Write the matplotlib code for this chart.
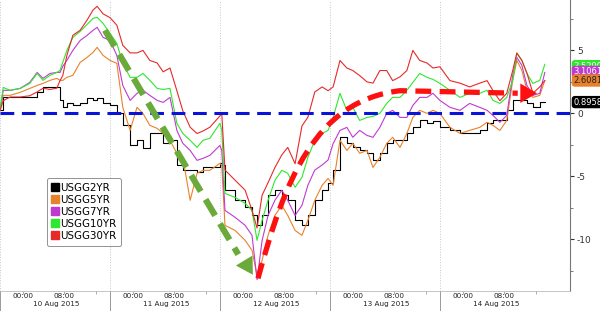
import numpy as np
import matplotlib.pyplot as plt
from matplotlib.lines import Line2D
from matplotlib.path import Path
from matplotlib.patches import PathPatch

# ---------------------------------------------------------------------------
# DATA (yield change in bp)
# ---------------------------------------------------------------------------
hours = [0, 0.7, 2.2, 4.4, 6.5, 8.1, 9.4, 10.9, 12.4, 13.1, 13.7, 14.6, 15.9, 17.5,
         19.0, 20.3, 21.2, 22.5, 24.0, 25.5, 26.8, 28.4, 29.9, 31.2, 32.7, 34.3,
         35.6, 37.1, 38.6, 39.9, 41.5, 43.0, 44.3, 45.8, 48.0, 48.4, 49.1, 51.3,
         53.5, 55.0, 56.1, 57.2, 58.5, 60.0, 61.5, 62.8, 64.4, 65.9, 67.2, 68.7,
         70.3, 71.6, 72.7, 74.2, 75.7, 77.0, 78.5, 80.1, 81.4, 82.9, 84.4, 85.7,
         87.3, 88.8, 90.1, 91.6, 93.2, 94.5, 96.0, 98.2, 100.4, 102.5, 104.7,
         106.3, 107.6, 109.1, 110.6, 111.9, 112.8, 113.9, 115.0, 116.3, 117.8, 118.9]

usgg2yr = [0.24, 1.27, 1.27, 1.27, 1.27, 1.67, 2.06, 2.06, 2.06, 1.03,
           0.48, 0.79, 0.63, 0.79, 1.19, 1.03, 1.19, 0.79, 0.63, 0.0,
           -0.95, -2.54, -2.14, -2.78, -1.59, -1.59, -2.38, -2.14, -4.13, -4.52,
           -4.52, -4.68, -4.29, -4.29, -3.97, -4.13, -6.11, -6.90, -7.46, -8.10,
           -8.89, -8.10, -6.51, -6.11, -6.51, -6.90, -8.49, -8.89, -8.10, -6.90,
           -6.11, -5.56, -4.52, -1.90, -2.38, -2.70, -2.94, -3.17, -3.73, -3.17,
           -2.38, -2.14, -2.14, -1.59, -1.11, -0.56, -0.79, -0.63, -1.11, -1.35,
           -1.59, -1.59, -1.35, -0.79, -0.56, -0.56, 0.24, 1.03, 1.03, 1.03,
           0.79, 0.48, 0.90, 0.90]

usgg5yr = [0.24, 1.43, 1.43, 1.67, 1.98, 2.22, 2.38, 2.62, 2.78, 2.62,
           2.62, 2.86, 3.02, 4.05, 4.44, 4.84, 5.24, 4.60, 4.21, 3.97,
           0.48, -1.35, 0.48, 0.0, -0.95, -1.19, -1.59, -2.14, -3.17, -3.49,
           -6.9, -4.76, -4.52, -4.52, -3.97, -4.13, -8.89, -9.29, -10.08, -10.87,
           -12.86, -11.67, -9.68, -8.10, -7.30, -8.10, -9.29, -9.68, -8.49, -6.90,
           -5.71, -5.16, -5.71, -2.14, -2.94, -2.38, -3.17, -2.94, -4.29, -3.49,
           -2.38, -1.90, -2.70, -1.59, -0.32, 0.24, 0.0, 0.24, 0.0, -1.11,
           -1.59, -1.35, -1.11, -0.71, -0.95, -1.35, -0.56, 2.62, 4.21, 3.41,
           1.83, 1.27, 1.43, 2.61]

usgg7yr = [0.24, 1.83, 1.83, 1.98, 2.46, 3.25, 2.78, 3.17, 3.25, 3.25,
           3.73, 4.21, 5.0, 5.79, 6.19, 6.59, 6.83, 6.03, 5.79, 4.60,
           2.22, 1.03, 1.59, 1.83, 1.43, 1.03, 0.87, 1.27, -1.35, -2.38,
           -2.94, -3.73, -3.57, -3.33, -2.54, -2.94, -7.70, -8.25, -8.89, -9.68,
           -13.2, -10.1, -8.1, -6.9, -6.1, -6.9, -8.1, -7.3, -5.7, -4.5,
           -4.1, -3.7, -2.4, -1.35, -1.11, -1.9, -1.35, -1.75, -1.9, -1.11,
           0.0, 0.24, -0.32, -0.32, 0.63, 1.27, 1.27, 1.59, 1.03, 0.48,
           0.24, 0.79, 0.48, 0.24, -0.16, -0.71, -0.16, 3.02, 4.44, 3.81,
           2.22, 1.43, 1.59, 3.25]

usgg10yr = [0.24, 2.06, 1.83, 1.98, 2.38, 3.17, 2.62, 3.02, 3.25, 3.41,
            4.05, 5.0, 6.03, 6.51, 7.06, 7.54, 7.62, 7.14, 6.35, 5.56,
            3.97, 2.86, 2.86, 3.17, 2.62, 1.98, 1.90, 1.98, -0.79, -1.59,
            -2.14, -2.70, -2.14, -1.98, -0.79, -1.35, -6.35, -6.67, -7.14, -7.70,
            -10.08, -8.49, -6.90, -5.32, -4.52, -4.76, -5.87, -5.08, -3.49, -2.14,
            -1.59, -1.35, -0.32, 1.59, 0.24, 0.48, -0.56, -0.32, -0.24, 0.0,
            0.79, 1.27, 1.27, 1.83, 2.46, 3.17, 2.86, 2.70, 2.38, 1.83,
            1.27, 1.59, 1.59, 1.83, 1.03, 0.79, 1.27, 2.62, 4.76, 4.21,
            3.17, 2.38, 2.62, 3.89]

usgg30yr = [0.2, 1.0, 1.3, 1.3, 1.4, 1.7, 2.0, 1.9, 2.0, 2.6,
            3.0, 4.6, 6.2, 6.6, 7.4, 8.2, 8.5, 7.9, 7.6, 7.0,
            5.4, 4.8, 4.8, 5.0, 4.2, 4.0, 3.3, 3.6, 1.8, 0.2,
            -1.1, -1.6, -1.4, -1.1, -0.2, 0.0, -4.5, -5.3, -6.1, -7.7,
            -9.1, -6.5, -5.5, -4.3, -3.3, -2.7, -4.0, -1.0, -0.3, 1.7,
            2.1, 1.8, 2.1, 4.2, 3.6, 3.4, 3.0, 2.5, 2.4, 3.4,
            3.4, 2.6, 2.9, 3.4, 5.0, 4.2, 4.0, 3.6, 3.7, 2.6,
            2.4, 2.1, 2.4, 2.6, 1.8, 1.0, 1.6, 3.4, 4.8, 4.2,
            3.2, 1.6, 2.1, 2.6]

series_names = ["USGG2YR", "USGG5YR", "USGG7YR", "USGG10YR", "USGG30YR"]
series_colors = ["#000000", "#e8822a", "#c03ad0", "#2ee82e", "#e62a2a"]
day_labels = ["10 Aug 2015", "11 Aug 2015", "12 Aug 2015", "13 Aug 2015", "14 Aug 2015"]

# last-value tags on the right edge: (label, value, face, text colour)
tags = [("3.5290", 3.75, "#2ee82e", "#ffffff"),
        ("3.1061", 3.3, "#c03ad0", "#ffffff"),
        ("2.6081", 2.6081, "#e8822a", "#222222"),
        ("0.8958", 0.8958, "#000000", "#ffffff")]

# ---------------------------------------------------------------------------
# FIGURE
# ---------------------------------------------------------------------------
fig = plt.figure(figsize=(6, 3.11), dpi=100)
ax = fig.add_axes([0.0, 1 - 291 / 311, 0.95, 291 / 311])
ax.set_xlim(0, 124.4)
ax.set_ylim(-14.1, 9.0)

# day separators
for d in range(5):
    ax.axvline(24 * d, color="#c8c8c8", lw=0.7, ls=":", zorder=0)
    ax.plot([24 * d, 24 * d], [0, -0.075], color="#999999", lw=0.7,
            transform=ax.get_xaxis_transform(), clip_on=False)

all_series = [usgg2yr, usgg5yr, usgg7yr, usgg10yr, usgg30yr]
for name, vals, col in zip(series_names, all_series, series_colors):
    ds = "steps-post" if name == "USGG2YR" else "default"
    ax.plot(hours, vals, color=col, lw=0.8, drawstyle=ds, zorder=3)

# zero line
ax.axhline(0, color="#0a14d8", lw=2.2, ls=(0, (4.5, 2.5)), zorder=4)

# green dashed arrow (sell-off)
ax.plot([22.9, 52.0], [6.6, -11.2], color="#6aaa3a", lw=4.5,
        ls=(0, (3, 1.5)), solid_capstyle="butt", zorder=5)
ax.annotate("", xy=(55.5, -13.0), xytext=(51.5, -10.6),
            arrowprops=dict(arrowstyle="-|>,head_length=1.2,head_width=0.7",
                            color="#6aaa3a", lw=0), zorder=6)

# red dashed curved arrow (rebound)
verts = [(56.3, -13.1), (62.2, -5.3), (68.7, 1.0), (87.3, 1.8), (113.0, 1.6)]
codes = [Path.MOVETO, Path.CURVE4, Path.CURVE4, Path.CURVE4, Path.LINETO]
ax.add_patch(PathPatch(Path(verts, codes), fill=False, edgecolor="#ff1010",
                       lw=3.8, ls=(0, (3, 1.6)), capstyle="butt", zorder=5))
ax.annotate("", xy=(117.8, 1.6), xytext=(113.0, 1.6),
            arrowprops=dict(arrowstyle="-|>,head_length=1.2,head_width=0.7",
                            color="#ff1010", lw=0), zorder=6)

# axes styling
for side in ["top", "left"]:
    ax.spines[side].set_visible(False)
ax.spines["right"].set_color("#777777")
ax.spines["bottom"].set_color("#bbbbbb")
ax.spines["right"].set_linewidth(0.8)
ax.spines["bottom"].set_linewidth(0.6)

ax.yaxis.tick_right()
ax.set_yticks([5, 0, -5, -10])
ax.set_yticklabels(["5", "0", "-5", "-10"])
ax.set_yticks([7.5, 2.5, -2.5, -7.5, -12.5], minor=True)
ax.tick_params(axis="y", which="major", length=3, width=0.8, labelsize=6.5,
               colors="#333333", pad=2)
ax.tick_params(axis="y", which="minor", length=2, width=0.6, colors="#666666")

ax.set_xticks([24 * d + off for d in range(5) for off in (5.0, 14.0, 21.0)])
ax.set_xticklabels([])
ax.tick_params(axis="x", length=2, width=0.5, colors="#888888", direction="out")

xt = ax.get_xaxis_transform()
for d, lab in enumerate(day_labels):
    ax.text(24 * d + 5.0, -0.006, "00:00", transform=xt, ha="center", va="top",
            fontsize=5.2, color="#222222")
    ax.text(24 * d + 14.0, -0.006, "08:00", transform=xt, ha="center", va="top",
            fontsize=5.2, color="#222222")
    ax.text(24 * d + 12.2, -0.036, lab, transform=xt, ha="center", va="top",
            fontsize=5.2, color="#222222")

# right-hand value tags
yt = ax.get_yaxis_transform()
for lab, val, face, tc in tags:
    ax.text(1.006, val, lab, transform=yt, ha="left", va="center", fontsize=6,
            color=tc, clip_on=False, zorder=10,
            bbox=dict(boxstyle="round,pad=0.2,rounding_size=0.4", fc=face,
                      ec="none"))

# legend
handles = [Line2D([], [], marker="s", ls="none", color=c, markersize=5.5)
           for c in series_colors]
leg = ax.legend(handles, series_names, loc="upper left",
                bbox_to_anchor=(0.082, 0.388), fontsize=7.4, frameon=True,
                fancybox=True, handletextpad=0.1, handlelength=0.8,
                labelspacing=0.2, borderpad=0.45, borderaxespad=0)
leg.get_frame().set_edgecolor("#777777")
leg.get_frame().set_linewidth(0.7)

fig.savefig("out.png", dpi=100)
